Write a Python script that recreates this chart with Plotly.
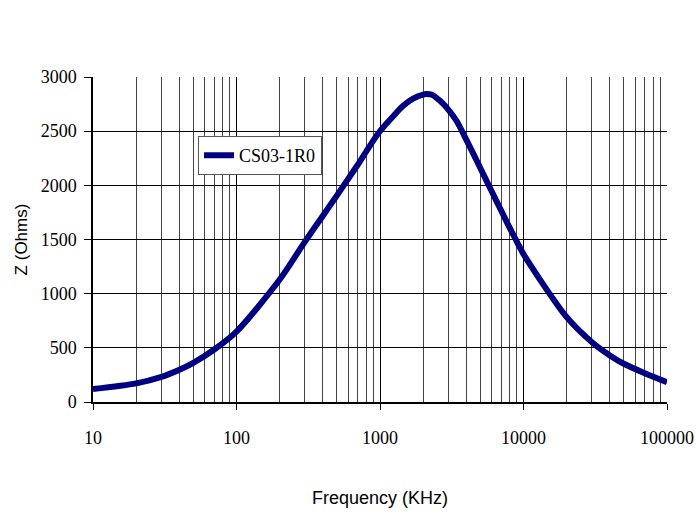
import plotly.graph_objects as go

# Data
freq_khz = [10, 20, 30, 40, 50, 70, 100, 200, 300, 400, 500, 600, 700, 800, 900, 1000,
            1240, 1450, 1700, 2000, 2100, 2300, 2620, 3000, 3410, 4000,
            5000, 6000, 7000, 8000, 9000, 10000,
            20000, 30000, 40000, 50000, 70000, 100000]
impedance_ohms = [120, 172, 232, 298, 362, 485, 650, 1130, 1480, 1720, 1905, 2060, 2190, 2310, 2415, 2500,
                  2640, 2734, 2800, 2838, 2842, 2836, 2780, 2697, 2596, 2420,
                  2160, 1945, 1765, 1610, 1478, 1365,
                  783, 552, 430, 353, 266, 183]
series_name = "CS03-1R0"

x_major_ticks = [10, 100, 1000, 10000, 100000]
x_major_labels = ["10", "100", "1000", "10000", "100000"]
x_minor_ticks = [m * d for d in [10, 100, 1000, 10000] for m in range(2, 10)]
y_ticks = [0, 500, 1000, 1500, 2000, 2500, 3000]

serif = "Liberation Serif"
sans = "Liberation Sans"

fig = go.Figure()
fig.add_trace(go.Scatter(
    x=freq_khz, y=impedance_ohms, mode="lines", name=series_name,
    line=dict(color="#000080", width=6, shape="spline", smoothing=0.8),
))

fig.update_layout(
    width=696, height=514, autosize=False,
    margin=dict(l=93, r=29, t=77, b=112),
    paper_bgcolor="white", plot_bgcolor="white",
    showlegend=True,
    legend=dict(
        x=0.183, y=0.818, xanchor="left", yanchor="top",
        bgcolor="white", bordercolor="#555555", borderwidth=1,
        font=dict(family=serif, size=18, color="black"),
        itemwidth=30, tracegroupgap=0,
    ),
    xaxis=dict(
        type="log", range=[1, 5], automargin=False,
        tickvals=x_major_ticks, ticktext=x_major_labels,
        tickfont=dict(family=serif, size=18, color="black"),
        ticks="outside", ticklen=6, tickcolor="black",
        ticklabelstandoff=13,
        showline=True, linecolor="black", linewidth=1.5,
        showgrid=True, gridcolor="black", gridwidth=1,
        minor=dict(tickvals=x_minor_ticks, showgrid=True, gridcolor="#444444",
                   gridwidth=1, ticks=""),
        title=dict(text="Frequency (KHz)", font=dict(family=sans, size=18, color="black"),
                   standoff=44),
        zeroline=False,
    ),
    yaxis=dict(
        range=[0, 3000], automargin=False,
        tickvals=y_ticks,
        tickfont=dict(family=serif, size=18, color="black"),
        ticks="outside", ticklen=7, tickcolor="black",
        ticklabelstandoff=4,
        showline=True, linecolor="black", linewidth=1.5,
        showgrid=True, gridcolor="black", gridwidth=1,
        title=dict(text="Z (Ohms)", font=dict(family=sans, size=17, color="black"),
                   standoff=9),
        zeroline=False,
    ),
)

fig.write_html("out.html",
               config={"displayModeBar": False, "responsive": False},
               post_script="document.body.style.margin='0';document.body.style.overflow='hidden';")
